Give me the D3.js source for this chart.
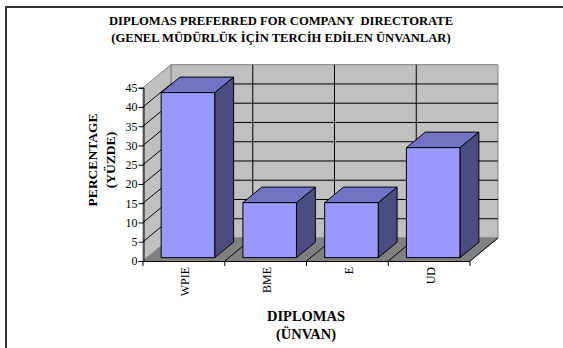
<!DOCTYPE html>
<html>
<head>
<meta charset="utf-8">
<script src="https://cdn.jsdelivr.net/npm/d3@7"></script>
</head>
<body style="margin:0">
<svg id="chart" width="563" height="348"></svg>
<script>
// Diplomas preferred for company directorate (percent of respondents)
const categories = ["WPIE", "BME", "E", "UD"];
const percentages = [42.86, 14.29, 14.29, 28.57];
const yTicks = [0, 5, 10, 15, 20, 25, 30, 35, 40, 45];
const titleLines = ["DIPLOMAS PREFERRED FOR COMPANY  DIRECTORATE", "(GENEL MÜDÜRLÜK İÇİN TERCİH EDİLEN ÜNVANLAR)"];
const yTitleLines = ["PERCENTAGE", "(YÜZDE)"];
const xTitleLines = ["DIPLOMAS", "(ÜNVAN)"];

const FONT = '"Liberation Serif"';
const svg = d3.select("#chart");

// frame (top and left edges)
svg.append("path")
  .attr("d", "M6,348 V7 H563")
  .attr("fill", "none").attr("stroke", "#333").attr("stroke-width", 2);

// plot geometry: front plane and depth offset of the 3D box
const x0 = 143, x1 = 470;
const depthX = 28, depthY = -23;

const y = d3.scaleLinear().domain([0, 45]).range([261, 87.7]);
const x = d3.scaleBand().domain(categories).range([x0, x1]).paddingInner(0).paddingOuter(0);
const bar = d3.scaleBand().domain(categories).range([x0, x1]).paddingInner(0.345).paddingOuter(0.1725);

const P = (px, v, f) => [px + depthX * f, y(v) + depthY * f];
const poly = pts => "M" + pts.map(p => p.join(",")).join("L") + "Z";

const yMax = 45;
const g = svg.append("g");

// back wall
g.append("path")
  .attr("d", poly([P(x0, 0, 1), P(x1, 0, 1), P(x1, yMax, 1), P(x0, yMax, 1)]))
  .attr("fill", "#c0c0c0").attr("stroke", "#808080").attr("stroke-width", 1);
// side wall
g.append("path")
  .attr("d", poly([P(x0, 0, 0), P(x0, 0, 1), P(x0, yMax, 1), P(x0, yMax, 0)]))
  .attr("fill", "#c0c0c0").attr("stroke", "#808080").attr("stroke-width", 1);
// floor
g.append("path")
  .attr("d", poly([P(x0, 0, 0), P(x1, 0, 0), P(x1, 0, 1), P(x0, 0, 1)]))
  .attr("fill", "#808080").attr("stroke", "#808080").attr("stroke-width", 1);

// horizontal gridlines on back and side walls
const gridVals = yTicks.filter(v => v > 0 && v < yMax);
gridVals.forEach(v => {
  g.append("path")
    .attr("d", "M" + P(x0, v, 0) + "L" + P(x0, v, 1) + "L" + P(x1, v, 1))
    .attr("fill", "none").attr("stroke", "#000").attr("stroke-width", 1);
});
// category dividers on back wall and floor
const bounds = categories.slice(1).map(c => x(c));
bounds.forEach(bx => {
  g.append("path")
    .attr("d", "M" + P(bx, yMax, 1) + "L" + P(bx, 0, 1) + "L" + P(bx, 0, 0))
    .attr("fill", "none").attr("stroke", "#000").attr("stroke-width", 1);
});

// floor front edge, right edge and category ticks
g.append("line").attr("x1", x0).attr("x2", x1).attr("y1", y(0) + 0.5).attr("y2", y(0) + 0.5)
  .attr("stroke", "#000");
g.append("path")
  .attr("d", "M" + P(x1, 0, 0) + "L" + P(x1, 0, 1))
  .attr("stroke", "#000").attr("fill", "none");
[x0, ...bounds, x1].forEach(bx => {
  g.append("line").attr("x1", bx).attr("x2", bx).attr("y1", y(0)).attr("y2", y(0) + 5)
    .attr("stroke", "#000");
});

// value axis
const axis = g.append("g").attr("transform", `translate(${x0 + 0.5},0)`)
  .call(d3.axisLeft(y).tickValues(yTicks).tickSize(5).tickPadding(1).tickFormat(d3.format("d")));
axis.attr("font-family", null).attr("font-size", null);
axis.select(".domain").attr("stroke", "#000");
axis.selectAll(".tick line").attr("stroke", "#000");
axis.selectAll("text")
  .style("font-family", FONT).style("font-size", "12px").attr("fill", "#000");

// 3D columns
const fFront = 0.145, fBack = 0.82;
const bars = g.append("g");
categories.forEach((c, i) => {
  const v = percentages[i];
  const bx0 = bar(c), bx1 = bar(c) + bar.bandwidth();
  // side
  bars.append("path")
    .attr("d", poly([P(bx1, 0, fFront), P(bx1, 0, fBack), P(bx1, v, fBack), P(bx1, v, fFront)]))
    .attr("fill", "#4c4c80").attr("stroke", "#000").attr("stroke-width", 1).attr("stroke-linejoin", "round");
  // top
  bars.append("path")
    .attr("d", poly([P(bx0, v, fFront), P(bx1, v, fFront), P(bx1, v, fBack), P(bx0, v, fBack)]))
    .attr("fill", "#7373c6").attr("stroke", "#000").attr("stroke-width", 1).attr("stroke-linejoin", "round");
  // front
  bars.append("path")
    .attr("d", poly([P(bx0, 0, fFront), P(bx1, 0, fFront), P(bx1, v, fFront), P(bx0, v, fFront)]))
    .attr("fill", "#9999ff").attr("stroke", "#000").attr("stroke-width", 1).attr("stroke-linejoin", "round");
});

// category labels (rotated)
categories.forEach(c => {
  const cx = x(c) + x.bandwidth() / 2;
  svg.append("text")
    .attr("transform", `translate(${cx + 5.5},267) rotate(-90)`)
    .attr("text-anchor", "end")
    .style("font-family", FONT).style("font-size", "12px")
    .attr("fill", "#000")
    .text(c);
});

// chart title
titleLines.forEach((t, i) => {
  svg.append("text")
    .attr("x", 281).attr("y", 25 + i * 16.5)
    .attr("text-anchor", "middle")
    .style("font-family", FONT).style("font-size", "12.6px").style("font-weight", "bold")
    .style("white-space", "pre")
    .attr("fill", "#000")
    .text(t);
});

// value axis title
yTitleLines.forEach((t, i) => {
  svg.append("text")
    .attr("transform", `translate(${96.5 + i * 18},160) rotate(-90)`)
    .attr("text-anchor", "middle")
    .style("font-family", FONT).style("font-size", "13.5px").style("font-weight", "bold")
    .attr("fill", "#000")
    .text(t);
});

// category axis title
xTitleLines.forEach((t, i) => {
  svg.append("text")
    .attr("x", 306).attr("y", 321 + i * 18)
    .attr("text-anchor", "middle")
    .style("font-family", FONT).style("font-size", "14.5px").style("font-weight", "bold")
    .attr("fill", "#000")
    .text(t);
});
</script>
</body>
</html>
